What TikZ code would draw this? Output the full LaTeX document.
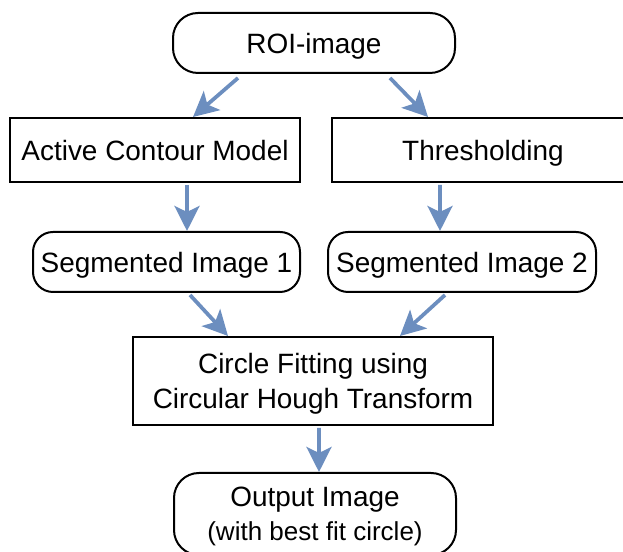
\documentclass[tikz,border=0pt]{standalone}
\usepackage{fontspec}
\setmainfont{Liberation Sans}
\usepackage{xcolor}
\usepackage{tikz}
\usetikzlibrary{arrows.meta, positioning}
\definecolor{flowblue}{HTML}{6C8EBF}

\begin{document}
\begin{tikzpicture}[
		every node/.style={font=\fontsize{15.9}{19.5}\selectfont, align=center, inner sep=0pt, text depth=0pt},
		term/.style={draw, line width=0.04cm, rounded corners=0.5cm, minimum width=5.64cm},
		proc/.style={draw, line width=0.04cm},
		flow/.style={draw=flowblue, line width=0.075cm, -{Stealth[length=0.5cm, width=0.5cm, inset=0.12cm]}}]
		\useasboundingbox (0, 0) rectangle (12.46, 11.04);
		% Boxes and arrows:
		\node[term, minimum height=1.2cm](N1) at (6.28, 10.18){ROI-image};
		\node[proc, minimum width=5.8cm, minimum height=1.28cm](N2) at (3.10, 8.04){Active Contour Model};
		\node[proc, minimum width=6.04cm, minimum height=1.28cm](N3) at (9.66, 8.04){Thresholding};
		\node[term, rounded corners=0.4cm, minimum width=5.34cm, minimum height=1.2cm](N4) at (3.33, 5.80){Segmented Image 1};
		\node[term, rounded corners=0.4cm, minimum width=5.36cm, minimum height=1.2cm](N5) at (9.24, 5.80){Segmented Image 2};
		\node[proc, minimum width=7.2cm, minimum height=1.76cm](N6) at (6.26, 3.42){Circle Fitting using\\Circular Hough Transform};
		\node[term, minimum height=1.64cm](N7) at (6.30, 0.76){Output Image\\{\fontsize{14.8}{19.5}\selectfont(with best fit circle)}};
		\draw[flow] ([xshift=-1.52cm, yshift=-0.08cm]N1.south) -- ([xshift=0.76cm]N2.north);
		\draw[flow] ([xshift=1.52cm, yshift=-0.08cm]N1.south) -- ([xshift=-1.1cm]N3.north);
		\draw[flow] ([xshift=0.64cm, yshift=-0.04cm]N2.south) -- ([xshift=0.41cm]N4.north);
		\draw[flow] ([xshift=-0.86cm, yshift=-0.04cm]N3.south) -- ([xshift=-0.44cm]N5.north);
		\draw[flow] ([xshift=0.47cm, yshift=-0.04cm]N4.south) -- ([xshift=-1.7cm]N6.north);
		\draw[flow] ([xshift=-0.34cm, yshift=-0.04cm]N5.south) -- ([xshift=1.74cm]N6.north);
		\draw[flow] ([xshift=0.12cm, yshift=-0.04cm]N6.south) -- ([xshift=0.08cm]N7.north);
	\end{tikzpicture}
\end{document}
